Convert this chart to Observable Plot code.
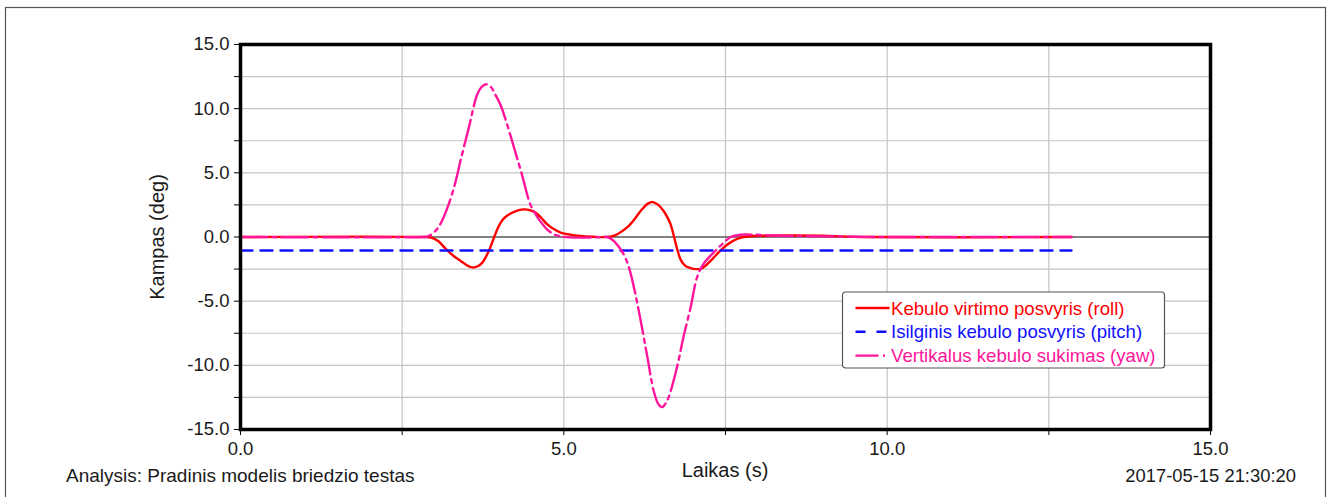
<!DOCTYPE html>
<html>
<head>
<meta charset="utf-8">
<script src="https://cdn.jsdelivr.net/npm/d3@7"></script>
<script src="https://cdn.jsdelivr.net/npm/@observablehq/plot@0.6"></script>
<style>
  html, body { margin: 0; padding: 0; background: #fff; }
  #chart svg { display: block; }
</style>
</head>
<body>
<div id="chart"></div>
<script>
// Body angles over time during the lane-change (moose) test
const rollTime = [0, 2.8, 2.95, 3.05, 3.19, 3.3, 3.4, 3.5, 3.58, 3.67, 3.74, 3.8, 3.86, 3.92, 3.98, 4.04, 4.12, 4.25, 4.38, 4.47, 4.56, 4.65, 4.74, 4.85, 4.95, 5.1, 5.25, 5.45, 5.67, 5.8, 5.9, 6.0, 6.08, 6.2, 6.3, 6.38, 6.46, 6.54, 6.6, 6.65, 6.7, 6.75, 6.81, 6.88, 6.96, 7.05, 7.12, 7.2, 7.3, 7.42, 7.5, 7.58, 7.68, 7.78, 7.95, 8.15, 8.6, 9.0, 9.3, 9.6, 12.85];
const rollDeg  = [0, 0, -0.05, -0.3, -1.0, -1.5, -1.85, -2.2, -2.37, -2.28, -2.0, -1.5, -0.85, -0.05, 0.7, 1.25, 1.65, 2.0, 2.15, 2.1, 1.9, 1.5, 1.0, 0.6, 0.35, 0.18, 0.08, 0.02, 0.0, 0.15, 0.45, 0.85, 1.3, 2.1, 2.6, 2.72, 2.5, 2.05, 1.55, 1.0, 0.1, -0.9, -1.8, -2.25, -2.42, -2.5, -2.48, -2.2, -1.7, -1.07, -0.7, -0.42, -0.15, 0.0, 0.08, 0.1, 0.12, 0.1, 0.05, 0.0, 0];

const pitchTime = [0, 12.85];
const pitchDeg  = [-1.05, -1.05];

const yawTime = [0, 2.8, 2.9, 3.0, 3.09, 3.22, 3.32, 3.4, 3.53, 3.66, 3.73, 3.8, 3.87, 3.94, 4.02, 4.09, 4.23, 4.35, 4.48, 4.56, 4.64, 4.74, 4.84, 4.95, 5.1, 5.3, 5.5, 5.67, 5.76, 5.87, 5.95, 6.02, 6.1, 6.18, 6.29, 6.39, 6.46, 6.52, 6.57, 6.62, 6.75, 6.85, 6.96, 7.06, 7.16, 7.32, 7.45, 7.58, 7.73, 8.09, 8.5, 9.0, 9.5, 10.0, 12.85];
const yawDeg  = [0, 0, 0.05, 0.4, 1.0, 2.56, 4.2, 5.9, 8.5, 11.1, 11.7, 11.9, 11.7, 11.1, 10.3, 9.3, 6.97, 4.9, 2.56, 1.8, 1.2, 0.6, 0.23, 0.05, -0.03, -0.05, -0.03, 0.0, -0.25, -0.9, -1.6, -2.6, -4.3, -6.3, -9.3, -12.0, -13.0, -13.26, -13.0, -12.5, -10.15, -7.8, -5.5, -3.15, -2.1, -1.2, -0.55, 0.0, 0.18, 0.15, 0.08, 0.05, 0.02, 0, 0];

const xTicks = d3.range(0, 15.001, 2.5);
const yTicks = d3.range(-15, 15.001, 2.5);

const series = [
  {name: "Kebulo virtimo posvyris (roll)", color: "#ff0000", dash: null, legendDash: null, time: rollTime, deg: rollDeg},
  {name: "Isilginis kebulo posvyris (pitch)", color: "#1010ff", dash: "12,8", legendDash: "10,11", time: pitchTime, deg: pitchDeg},
  {name: "Vertikalus kebulo sukimas (yaw)", color: "#ff149b", dash: "27,5,4,5", legendDash: "23,4.5,2,10", time: yawTime, deg: yawDeg}
];

const font = "'Liberation Sans', Arial, sans-serif";
const label = d => (Math.abs(d % 5) < 1e-9 ? d.toFixed(1) : "");

const lineMarks = series.map(s =>
  Plot.line(s.time.map((t, i) => ({t, v: s.deg[i]})), {
    x: "t", y: "v", stroke: s.color, strokeWidth: 2.4,
    strokeDasharray: s.dash ?? undefined, curve: "catmull-rom"
  })
);

const plot = Plot.plot({
  width: 1328,
  height: 497,
  marginLeft: 240,
  marginTop: 44,
  marginRight: 118,
  marginBottom: 68,
  style: {fontFamily: font, background: "#fff", overflow: "visible"},
  x: {domain: [0, 15]},
  y: {domain: [-15, 15]},
  marks: [
    Plot.gridX(xTicks, {stroke: "#c4c4c4", strokeOpacity: 1, strokeWidth: 1.2}),
    Plot.gridY(yTicks, {stroke: "#c4c4c4", strokeOpacity: 1, strokeWidth: 1.2}),
    Plot.ruleY([0], {stroke: "#222", strokeWidth: 1.1}),
    ...lineMarks,
    Plot.frame({stroke: "#000", strokeWidth: 3.5}),
    Plot.axisX(xTicks, {tickSize: 6, tickPadding: 6, tickFormat: label, fontSize: 18.5, fill: "#1a1a1a", stroke: "#000", label: null}),
    Plot.axisY(yTicks, {tickSize: 6, tickPadding: 5, tickFormat: label, fontSize: 18.5, fill: "#1a1a1a", stroke: "#000", label: null})
  ]
});

const svg = d3.select(plot);

// outer panel border
svg.insert("rect", ":first-child")
  .attr("x", 5.5).attr("y", 7.5).attr("width", 1320).attr("height", 500)
  .attr("fill", "none").attr("stroke", "#555").attr("stroke-width", 1.2);

// axis titles
svg.append("text")
  .attr("transform", "translate(157,237) rotate(-90)")
  .attr("text-anchor", "middle").attr("dy", "0.35em")
  .attr("font-family", font).attr("font-size", 20).attr("fill", "#1a1a1a")
  .text("Kampas (deg)");
svg.append("text")
  .attr("x", 725).attr("y", 477).attr("text-anchor", "middle")
  .attr("font-family", font).attr("font-size", 20).attr("fill", "#1a1a1a")
  .text("Laikas (s)");

// footer
svg.append("text")
  .attr("x", 66).attr("y", 482).attr("text-anchor", "start")
  .attr("font-family", font).attr("font-size", 19).attr("fill", "#1a1a1a")
  .text("Analysis: Pradinis modelis briedzio testas");
svg.append("text")
  .attr("x", 1296).attr("y", 482).attr("text-anchor", "end")
  .attr("font-family", font).attr("font-size", 18.4).attr("fill", "#1a1a1a")
  .text("2017-05-15 21:30:20");

// legend
const lg = svg.append("g").attr("transform", "translate(842.5,292)");
lg.append("rect")
  .attr("width", 322).attr("height", 76).attr("rx", 3)
  .attr("fill", "#fff").attr("stroke", "#555").attr("stroke-width", 1.2);
series.forEach((s, i) => {
  const y = 16 + i * 23.8;
  lg.append("line")
    .attr("x1", 13).attr("x2", 47).attr("y1", y).attr("y2", y)
    .attr("stroke", s.color).attr("stroke-width", 2.4)
    .attr("stroke-dasharray", s.legendDash);
  lg.append("text")
    .attr("x", 48.5).attr("y", y).attr("dy", "0.36em").attr("text-anchor", "start")
    .attr("font-family", font).attr("font-size", 18.6).attr("fill", s.color)
    .text(s.name);
});

document.getElementById("chart").append(plot);
</script>
</body>
</html>
